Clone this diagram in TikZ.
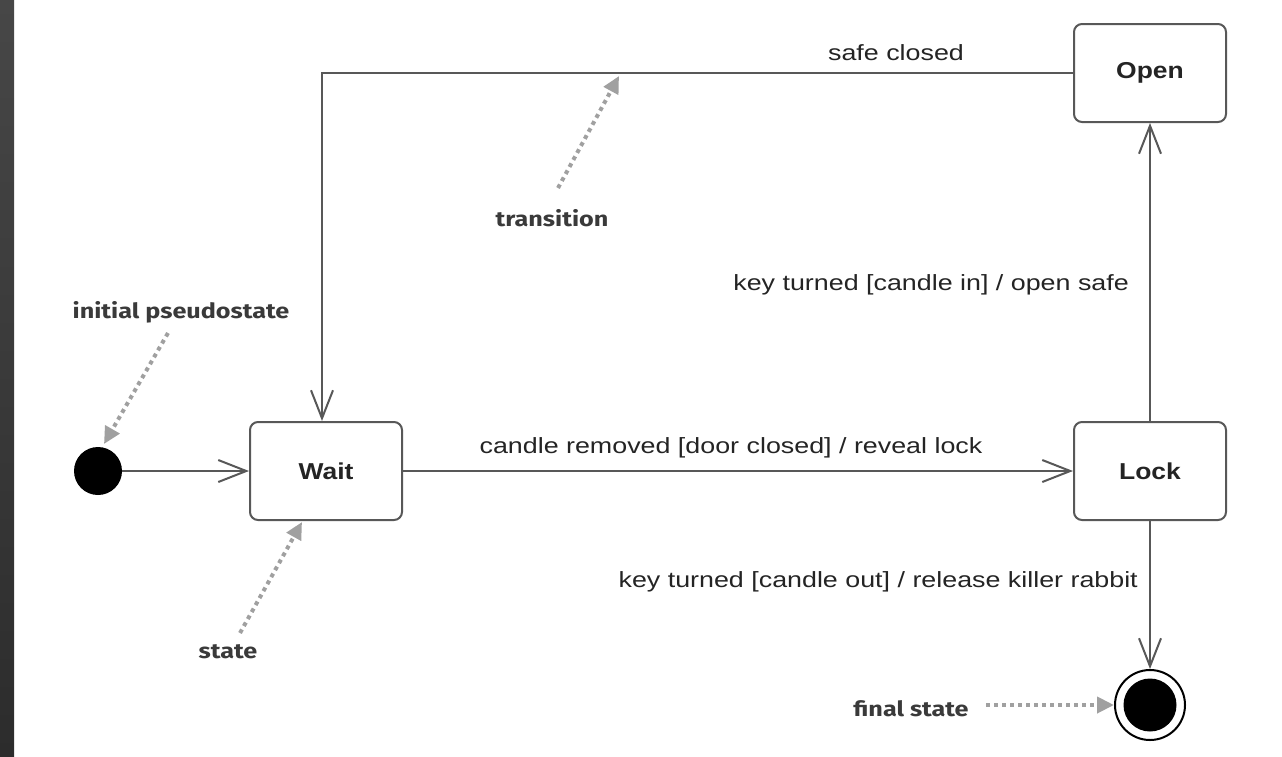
\documentclass[tikz,border=0pt]{standalone}
\usepackage{fontspec}
\setmainfont{Liberation Sans}
\newfontfamily\labfont[FakeStretch=1.22]{Liberation Sans}
\newfontfamily\statefont[FakeStretch=1.15]{Liberation Sans}
\newfontfamily\annofont[FakeStretch=1.2]{Fira Sans}
\usetikzlibrary{arrows.meta,calc}
\definecolor{ln}{HTML}{585858}
\definecolor{txt}{HTML}{242424}
\definecolor{note}{HTML}{A0A0A0}
\definecolor{stripa}{HTML}{474747}
\definecolor{stripb}{HTML}{2C2C2C}
\begin{document}
\begin{tikzpicture}[x=1pt,y=-1pt,
  statebox/.style={draw=ln, line width=2pt, rounded corners=8pt, fill=white,
    minimum width=152pt, minimum height=98pt, inner sep=0pt,
    font=\statefont\fontsize{23}{26}\selectfont\bfseries, text=txt},
  initdot/.style={circle, fill=black, minimum size=48pt, inner sep=0pt},
  finalring/.style={circle, draw=black, line width=2pt, fill=white, minimum size=70pt, inner sep=0pt},
  finaldot/.style={circle, fill=black, minimum size=53pt, inner sep=0pt},
  trans/.style={draw=ln, line width=2.2pt, line join=miter,
    -{Straight Barb[length=28pt, width=22pt, line width=2pt]}},
  lbl/.style={font=\labfont\fontsize{22}{25}\selectfont, text=txt, inner sep=0pt},
  anno/.style={font=\annofont\fontsize{21}{24}\selectfont\bfseries, text=txt!90, inner sep=0pt},
  notearrow/.style={draw=note, line width=4pt, dash pattern=on 4pt off 4pt,
    -{Triangle[length=17pt, width=16pt, fill=note]}}
]
\useasboundingbox (0,0) rectangle (1282,756);
\shade[top color=stripa, bottom color=stripb] (0,0) rectangle (14,756);

% states
\node[statebox] (Open) at (1150,73) {Open};
\node[statebox] (Lock) at (1150,471) {Lock};
\node[statebox] (Wait) at (326,471) {Wait};
\node[initdot] (Init) at (98,471) {};
\node[finalring] (Final) at (1150,705) {};
\node[finaldot] (FinalIn) at (1150,705) {};
\coordinate (corner) at (322,73);

% transitions
\draw[trans] (Init) -- (Wait);
\draw[trans] (Wait) -- (Lock);
\draw[trans] (Lock) -- (Open);
\draw[trans] (Lock) -- (Final);
\draw[trans] (Open.west) -- (corner) -- (Wait.north -| corner);

% transition labels
\node[lbl, anchor=base] (lSafe) at (896,60) {safe closed};
\node[lbl, anchor=base] (lRemove) at (731,453) {candle removed [door closed] / reveal lock};
\node[lbl, anchor=base east] (lIn) at (1129,290) {key turned [candle in] / open safe};
\node[lbl, anchor=base east] (lOut) at (1138,587) {key turned [candle out] / release killer rabbit};

% annotations
\node[anno] (aInit) at (181,312) {initial pseudostate};
\node[anno] (aTrans) at (552,218) {transition};
\node[anno] (aState) at (228,652) {state};
\node[anno] (aFinal) at (911,709) {final state};
\coordinate (tInit) at (168,333);
\coordinate (tTrans) at (558,188);
\coordinate (tState) at (240,633);
\coordinate (tFinal) at (986,705);
\coordinate (hInit) at (104,444);
\coordinate (hTrans) at (619,76);
\coordinate (hState) at (302,522);
\draw[notearrow] (tInit) -- (hInit);
\draw[notearrow] (tTrans) -- (hTrans);
\draw[notearrow] (tState) -- (hState);
\draw[notearrow] (tFinal) -- (Final.west);
\end{tikzpicture}
\end{document}
